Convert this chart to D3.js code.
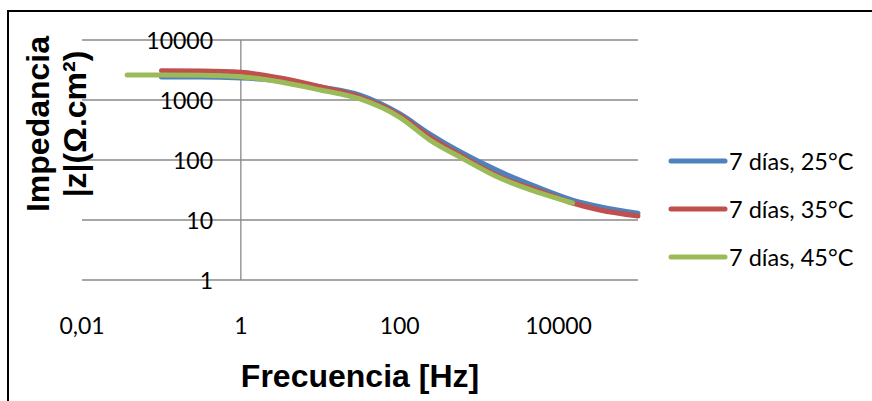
<!DOCTYPE html>
<html>
<head>
<meta charset="utf-8">
<script src="https://cdn.jsdelivr.net/npm/d3@7"></script>
<style>
  body { margin: 0; background: #fff; }
  svg { display: block; }
</style>
</head>
<body>
<div id="chart"></div>
<script>
// Data (frequency in Hz, |z| in ohm.cm2)
const freq = [0.037, 0.1, 0.316, 1, 3.16, 10, 31.6, 100, 240, 575, 1820, 5800, 15000, 33000, 100000];
const z25 = [null, 2420, 2420, 2330, 2100, 1650, 1210, 590, 270, 137, 64, 34, 21.5, 16.7, 13];
const z35 = [null, 3080, 3050, 2900, 2330, 1667, 1120, 555, 242, 121, 52.7, 30.4, 19.2, 14.7, 11.7];
const z45 = [2610, 2610, 2590, 2445, 1995, 1468, 1040, 515, 215, 112, 50, 28.2, 19.2, null, null];
const seriesNames = ["7 días, 25°C", "7 días, 35°C", "7 días, 45°C"];
const seriesColors = ["#4F81BD", "#C0504D", "#9BBB59"];
const xTicks = [0.01, 1, 100, 10000];
const xTickLabels = ["0,01", "1", "100", "10000"];
const yTicks = [1, 10, 100, 1000, 10000];

const width = 872, height = 401;

const svg = d3.select("#chart").append("svg")
  .attr("width", width)
  .attr("height", height);

// outer frame (right and bottom edges are off the picture)
svg.append("rect")
  .attr("x", 8).attr("y", 11)
  .attr("width", 900).attr("height", 420)
  .attr("fill", "none")
  .attr("stroke", "#000")
  .attr("stroke-width", 2);

const x = d3.scaleLog().domain([0.01, 100000]).range([82, 638]);
const y = d3.scaleLog().domain([1, 10000]).range([280, 40]);

// horizontal gridlines
svg.append("g").selectAll("line")
  .data(yTicks)
  .join("line")
  .attr("x1", 82).attr("x2", 638)
  .attr("y1", d => y(d)).attr("y2", d => y(d))
  .attr("stroke", "#888")
  .attr("stroke-width", 1.3);

// vertical axis crosses at x = 1
svg.append("line")
  .attr("x1", x(1)).attr("x2", x(1))
  .attr("y1", y(10000)).attr("y2", y(1))
  .attr("stroke", "#888")
  .attr("stroke-width", 1.3);

// y tick labels
svg.append("g").selectAll("text")
  .data(yTicks)
  .join("text")
  .attr("x", 213)
  .attr("y", d => y(d))
  .attr("text-anchor", "end")
  .attr("dominant-baseline", "central")
  .attr("font-family", "Lato, sans-serif")
  .attr("font-size", 23)
  .attr("fill", "#000")
  .text(d => d);

// x tick labels
svg.append("g").selectAll("text")
  .data(xTicks)
  .join("text")
  .attr("x", d => x(d))
  .attr("y", 325)
  .attr("text-anchor", "middle")
  .attr("dominant-baseline", "central")
  .attr("font-family", "Lato, sans-serif")
  .attr("font-size", 23)
  .attr("fill", "#000")
  .text((d, i) => xTickLabels[i]);

// axis titles
svg.append("text")
  .attr("x", 360).attr("y", 387)
  .attr("text-anchor", "middle")
  .attr("font-family", "Liberation Sans, Arial, sans-serif")
  .attr("font-weight", "bold")
  .attr("font-size", 32)
  .text("Frecuencia [Hz]");

const yTitle = svg.append("text")
  .attr("transform", "translate(0,124) rotate(-90)")
  .attr("text-anchor", "middle")
  .attr("font-family", "Liberation Sans, Arial, sans-serif")
  .attr("font-weight", "bold")
  .attr("font-size", 32);
yTitle.append("tspan").attr("x", 0).attr("y", 49).text("Impedancia");
yTitle.append("tspan").attr("x", 0).attr("y", 86).text("|z|(Ω.cm²)");

// curves
const line = d3.line()
  .defined(d => d[1] != null)
  .x(d => x(d[0]))
  .y(d => y(d[1]))
  .curve(d3.curveMonotoneX);

[z25, z35, z45].forEach((vals, i) => {
  svg.append("path")
    .datum(freq.map((f, j) => [f, vals[j]]))
    .attr("d", line)
    .attr("fill", "none")
    .attr("stroke", seriesColors[i])
    .attr("stroke-width", 5)
    .attr("stroke-linecap", "round")
    .attr("stroke-linejoin", "round");
});

// legend
const legend = svg.append("g").selectAll("g")
  .data(seriesNames)
  .join("g")
  .attr("transform", (d, i) => `translate(0,${161 + i * 48})`);

legend.append("line")
  .attr("x1", 671).attr("x2", 725)
  .attr("stroke", (d, i) => seriesColors[i])
  .attr("stroke-width", 5)
  .attr("stroke-linecap", "round");

legend.append("text")
  .attr("x", 729)
  .attr("dominant-baseline", "central")
  .attr("font-family", "Lato, sans-serif")
  .attr("font-size", 23.5)
  .text(d => d);
</script>
</body>
</html>
